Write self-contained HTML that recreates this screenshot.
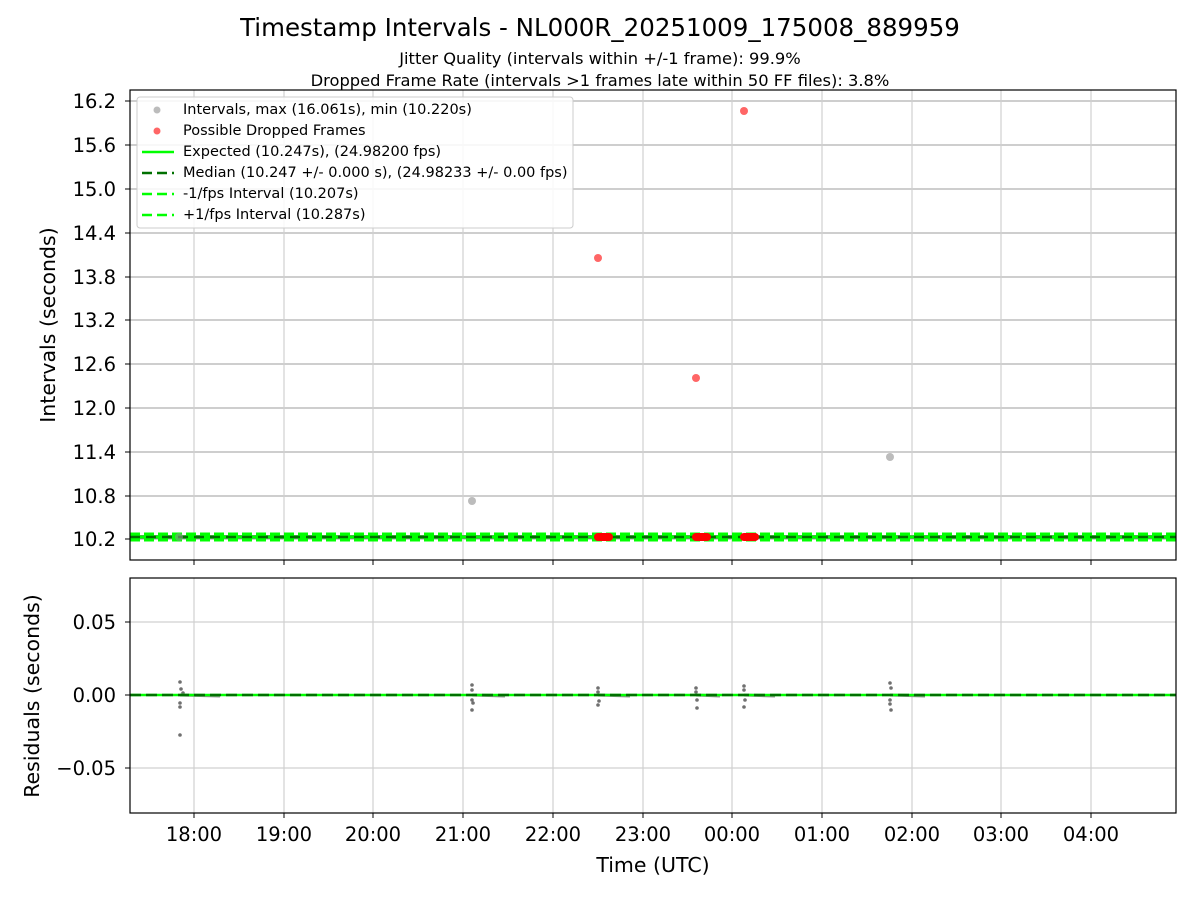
<!DOCTYPE html>
<html><head><meta charset="utf-8"><style>body{margin:0;background:#fff}svg{display:block;font-family:"DejaVu Sans","Liberation Sans",sans-serif}</style></head><body>
<svg width="1200" height="900" viewBox="0 0 1200 900" xmlns="http://www.w3.org/2000/svg">
<rect width="1200" height="900" fill="#fff"/>
<text x="600" y="36" font-size="24.5" text-anchor="middle">Timestamp Intervals - NL000R_20251009_175008_889959</text>
<text x="600" y="64" font-size="16.3" text-anchor="middle">Jitter Quality (intervals within +/-1 frame): 99.9%</text>
<text x="600" y="86" font-size="16.3" text-anchor="middle">Dropped Frame Rate (intervals &gt;1 frames late within 50 FF files): 3.8%</text>
<g stroke="#b0b0b0" stroke-width="1.2">
<line x1="130" x2="1176" y1="101" y2="101"/><line x1="130" x2="1176" y1="145" y2="145"/><line x1="130" x2="1176" y1="189" y2="189"/><line x1="130" x2="1176" y1="233" y2="233"/><line x1="130" x2="1176" y1="277" y2="277"/><line x1="130" x2="1176" y1="320" y2="320"/><line x1="130" x2="1176" y1="364" y2="364"/><line x1="130" x2="1176" y1="408" y2="408"/><line x1="130" x2="1176" y1="452" y2="452"/><line x1="130" x2="1176" y1="496" y2="496"/><line x1="130" x2="1176" y1="539" y2="539"/>
</g>
<g stroke="#d0d0d0" stroke-width="1.2">
<line x1="194" x2="194" y1="90" y2="560"/><line x1="284" x2="284" y1="90" y2="560"/><line x1="373" x2="373" y1="90" y2="560"/><line x1="463" x2="463" y1="90" y2="560"/><line x1="553" x2="553" y1="90" y2="560"/><line x1="643" x2="643" y1="90" y2="560"/><line x1="732" x2="732" y1="90" y2="560"/><line x1="822" x2="822" y1="90" y2="560"/><line x1="912" x2="912" y1="90" y2="560"/><line x1="1001" x2="1001" y1="90" y2="560"/><line x1="1091" x2="1091" y1="90" y2="560"/>
<line x1="194" x2="194" y1="578" y2="813"/><line x1="284" x2="284" y1="578" y2="813"/><line x1="373" x2="373" y1="578" y2="813"/><line x1="463" x2="463" y1="578" y2="813"/><line x1="553" x2="553" y1="578" y2="813"/><line x1="643" x2="643" y1="578" y2="813"/><line x1="732" x2="732" y1="578" y2="813"/><line x1="822" x2="822" y1="578" y2="813"/><line x1="912" x2="912" y1="578" y2="813"/><line x1="1001" x2="1001" y1="578" y2="813"/><line x1="1091" x2="1091" y1="578" y2="813"/>
<line x1="130" x2="1176" y1="622" y2="622"/><line x1="130" x2="1176" y1="695" y2="695"/><line x1="130" x2="1176" y1="768" y2="768"/>
</g>
<line x1="130" x2="1176" y1="537" y2="537" stroke="#808080" stroke-width="4"/>
<line x1="130" x2="1176" y1="540" y2="540" stroke="#00ff00" stroke-width="3" stroke-dasharray="10,4"/>
<line x1="130" x2="1176" y1="534" y2="534" stroke="#00ff00" stroke-width="3" stroke-dasharray="10,4"/>
<line x1="130" x2="1176" y1="537" y2="537" stroke="#00ff00" stroke-width="3"/>
<line x1="130" x2="1176" y1="537" y2="537" stroke="#007000" stroke-width="2.5" stroke-dasharray="10,6"/>
<g fill="#909090" fill-opacity="0.6"><circle cx="179" cy="537" r="4"/><circle cx="472" cy="501" r="4"/><circle cx="890" cy="457" r="4"/></g>
<g fill="#ff0000" fill-opacity="0.6"><circle cx="598" cy="258" r="4"/><circle cx="696" cy="378" r="4"/><circle cx="744" cy="111" r="4"/></g>
<g fill="#ff0000"><rect x="594" y="533" width="19" height="8" rx="4"/><rect x="692" y="533" width="19" height="8" rx="4"/><rect x="740" y="533" width="19" height="8" rx="4"/></g>
<rect x="130" y="90" width="1046" height="470" fill="none" stroke="#000" stroke-width="1.2"/>
<rect x="137" y="97" width="436" height="131" fill="#fff" fill-opacity="0.85" stroke="#ccc" rx="3"/>
<g font-size="14.5">
<circle cx="157" cy="110" r="3.5" fill="#909090" fill-opacity="0.6"/><text x="183" y="114">Intervals, max (16.061s), min (10.220s)</text>
<circle cx="157" cy="131" r="3.5" fill="#ff0000" fill-opacity="0.6"/><text x="183" y="135">Possible Dropped Frames</text>
<line x1="142" x2="174" y1="152" y2="152" stroke="#00ff00" stroke-width="2.5"/><text x="183" y="156">Expected (10.247s), (24.98200 fps)</text>
<line x1="142" x2="174" y1="173" y2="173" stroke="#007000" stroke-width="2.5" stroke-dasharray="10,5"/><text x="183" y="177">Median (10.247 +/- 0.000 s), (24.98233 +/- 0.00 fps)</text>
<line x1="142" x2="174" y1="194" y2="194" stroke="#00ff00" stroke-width="2.5" stroke-dasharray="10,5"/><text x="183" y="198">-1/fps Interval (10.207s)</text>
<line x1="142" x2="174" y1="215" y2="215" stroke="#00ff00" stroke-width="2.5" stroke-dasharray="10,5"/><text x="183" y="219">+1/fps Interval (10.287s)</text>
</g>
<g font-size="19.5" text-anchor="end">
<text x="116" y="108">16.2</text><text x="116" y="152">15.6</text><text x="116" y="196">15.0</text><text x="116" y="240">14.4</text><text x="116" y="284">13.8</text><text x="116" y="327">13.2</text><text x="116" y="371">12.6</text><text x="116" y="415">12.0</text><text x="116" y="459">11.4</text><text x="116" y="503">10.8</text><text x="116" y="546">10.2</text>
</g>
<g stroke="#000"><line x1="125" x2="130" y1="101" y2="101"/><line x1="125" x2="130" y1="145" y2="145"/><line x1="125" x2="130" y1="189" y2="189"/><line x1="125" x2="130" y1="233" y2="233"/><line x1="125" x2="130" y1="277" y2="277"/><line x1="125" x2="130" y1="320" y2="320"/><line x1="125" x2="130" y1="364" y2="364"/><line x1="125" x2="130" y1="408" y2="408"/><line x1="125" x2="130" y1="452" y2="452"/><line x1="125" x2="130" y1="496" y2="496"/><line x1="125" x2="130" y1="539" y2="539"/>
<line x1="125" x2="130" y1="622" y2="622"/><line x1="125" x2="130" y1="695" y2="695"/><line x1="125" x2="130" y1="768" y2="768"/></g>
<g stroke="#000"><line x1="194" x2="194" y1="560" y2="565"/><line x1="284" x2="284" y1="560" y2="565"/><line x1="373" x2="373" y1="560" y2="565"/><line x1="463" x2="463" y1="560" y2="565"/><line x1="553" x2="553" y1="560" y2="565"/><line x1="643" x2="643" y1="560" y2="565"/><line x1="732" x2="732" y1="560" y2="565"/><line x1="822" x2="822" y1="560" y2="565"/><line x1="912" x2="912" y1="560" y2="565"/><line x1="1001" x2="1001" y1="560" y2="565"/><line x1="1091" x2="1091" y1="560" y2="565"/>
<line x1="194" x2="194" y1="813" y2="818"/><line x1="284" x2="284" y1="813" y2="818"/><line x1="373" x2="373" y1="813" y2="818"/><line x1="463" x2="463" y1="813" y2="818"/><line x1="553" x2="553" y1="813" y2="818"/><line x1="643" x2="643" y1="813" y2="818"/><line x1="732" x2="732" y1="813" y2="818"/><line x1="822" x2="822" y1="813" y2="818"/><line x1="912" x2="912" y1="813" y2="818"/><line x1="1001" x2="1001" y1="813" y2="818"/><line x1="1091" x2="1091" y1="813" y2="818"/></g>
<text x="55" y="325" font-size="20.5" text-anchor="middle" transform="rotate(-90 55 325)">Intervals (seconds)</text>
<g fill="#707070">
<circle cx="180" cy="682" r="1.8"/><circle cx="181" cy="689" r="1.8"/><circle cx="180" cy="703" r="1.8"/><circle cx="180" cy="707" r="1.8"/><circle cx="180" cy="735" r="1.8"/><circle cx="183" cy="693" r="1.8"/>
<circle cx="472" cy="685" r="1.8"/><circle cx="472" cy="690" r="1.8"/><circle cx="472" cy="700" r="1.8"/><circle cx="473" cy="703" r="1.8"/><circle cx="472" cy="710" r="1.8"/>
<circle cx="598" cy="688" r="1.8"/><circle cx="598" cy="692" r="1.8"/><circle cx="599" cy="701" r="1.8"/><circle cx="598" cy="705" r="1.8"/>
<circle cx="696" cy="688" r="1.8"/><circle cx="696" cy="692" r="1.8"/><circle cx="697" cy="700" r="1.8"/><circle cx="697" cy="708" r="1.8"/>
<circle cx="744" cy="686" r="1.8"/><circle cx="744" cy="690" r="1.8"/><circle cx="745" cy="700" r="1.8"/><circle cx="744" cy="707" r="1.8"/>
<circle cx="890" cy="683" r="1.8"/><circle cx="891" cy="688" r="1.8"/><circle cx="890" cy="700" r="1.8"/><circle cx="890" cy="704" r="1.8"/><circle cx="891" cy="710" r="1.8"/>
</g>
<g stroke="#909090" stroke-width="3"><line x1="180" x2="220" y1="695" y2="696"/><line x1="472" x2="505" y1="695" y2="696"/><line x1="598" x2="630" y1="695" y2="696"/><line x1="696" x2="720" y1="695" y2="696"/><line x1="744" x2="775" y1="695" y2="696"/><line x1="890" x2="925" y1="695" y2="696"/></g>
<line x1="130" x2="1176" y1="695" y2="695" stroke="#00ff00" stroke-width="2.5"/>
<line x1="130" x2="1176" y1="695" y2="695" stroke="#007000" stroke-width="2.5" stroke-dasharray="11,5"/>
<rect x="130" y="578" width="1046" height="235" fill="none" stroke="#000" stroke-width="1.2"/>
<g font-size="19.5" text-anchor="end"><text x="116" y="629">0.05</text><text x="116" y="702">0.00</text><text x="116" y="775">−0.05</text></g>
<text x="39" y="696" font-size="20.5" text-anchor="middle" transform="rotate(-90 39 696)">Residuals (seconds)</text>
<g font-size="19.5" text-anchor="middle">
<text x="194" y="841">18:00</text><text x="284" y="841">19:00</text><text x="373" y="841">20:00</text><text x="463" y="841">21:00</text><text x="553" y="841">22:00</text><text x="643" y="841">23:00</text><text x="732" y="841">00:00</text><text x="822" y="841">01:00</text><text x="912" y="841">02:00</text><text x="1001" y="841">03:00</text><text x="1091" y="841">04:00</text>
</g>
<text x="653" y="872" font-size="20.5" text-anchor="middle">Time (UTC)</text>
</svg>
</body></html>
